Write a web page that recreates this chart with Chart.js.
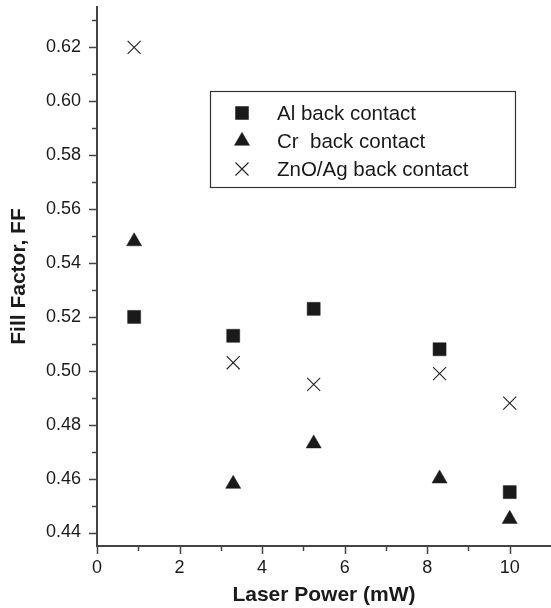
<!DOCTYPE html>
<html>
<head>
<meta charset="utf-8">
<script src="https://cdn.jsdelivr.net/npm/chart.js@4/dist/chart.umd.min.js"></script>
<style>
  html, body { margin: 0; padding: 0; background: #fff; }
  #wrap { width: 551px; height: 608px; }
</style>
</head>
<body>
<div id="wrap"><canvas id="c" width="551" height="608"></canvas></div>
<script>
// Laser power settings (mW) shared by all three contact types
const laserPower = [0.9, 3.3, 5.25, 8.3, 10];

// Fill factor for each back contact material
const alFF   = [0.520, 0.513, 0.523, 0.508, 0.455];
const crFF   = [0.548, 0.458, 0.473, 0.460, 0.445];
const znoFF  = [0.620, 0.503, 0.495, 0.499, 0.488];

const seriesNames = ['Al back contact', 'Cr  back contact', 'ZnO/Ag back contact'];

// Axis ticks: labelled (major) and unlabelled (minor)
const xMajorTicks = [0, 2, 4, 6, 8, 10];
const xMinorTicks = [1, 3, 5, 7, 9];
const yMajorTicks = [0.44, 0.46, 0.48, 0.50, 0.52, 0.54, 0.56, 0.58, 0.60, 0.62];
const yMinorTicks = [0.45, 0.47, 0.49, 0.51, 0.53, 0.55, 0.57, 0.59, 0.61, 0.63];

const INK = '#1a1a1a';
const AXIS = '#444';
const FONT = "'Liberation Sans', Arial, Helvetica, sans-serif";

function toPoints(ys) {
  return laserPower.map((x, i) => ({ x: x, y: ys[i] }));
}

// Outward tick marks, long for labelled ticks and short for the others
const tickMarks = {
  id: 'tickMarks',
  afterDraw(chart) {
    const { ctx, chartArea, scales } = chart;
    ctx.save();
    ctx.strokeStyle = AXIS;
    ctx.lineWidth = 1.5;
    ctx.beginPath();
    const xs = scales.x, ys = scales.y;
    xMajorTicks.forEach(v => {
      const p = Math.round(xs.getPixelForValue(v)) + 0.5;
      ctx.moveTo(p, chartArea.bottom); ctx.lineTo(p, chartArea.bottom + 8);
    });
    xMinorTicks.forEach(v => {
      const p = Math.round(xs.getPixelForValue(v)) + 0.5;
      ctx.moveTo(p, chartArea.bottom); ctx.lineTo(p, chartArea.bottom + 5);
    });
    yMajorTicks.forEach(v => {
      const p = Math.round(ys.getPixelForValue(v)) + 0.5;
      ctx.moveTo(chartArea.left, p); ctx.lineTo(chartArea.left - 8, p);
    });
    yMinorTicks.forEach(v => {
      const p = Math.round(ys.getPixelForValue(v)) + 0.5;
      ctx.moveTo(chartArea.left, p); ctx.lineTo(chartArea.left - 5, p);
    });
    ctx.stroke();
    ctx.restore();
  }
};

// Boxed legend inside the plot, built from the dataset labels and point styles
const boxedLegend = {
  id: 'boxedLegend',
  afterDraw(chart) {
    const { ctx } = chart;
    const box = { left: 210.5, top: 91.5, right: 515.5, bottom: 187.5 };
    ctx.save();
    ctx.strokeStyle = '#333';
    ctx.lineWidth = 1.2;
    ctx.strokeRect(box.left, box.top, box.right - box.left, box.bottom - box.top);
    ctx.textBaseline = 'middle';
    chart.data.datasets.forEach((ds, i) => {
      const y = 113 + i * 28;
      ctx.fillStyle = ds.backgroundColor;
      ctx.strokeStyle = ds.borderColor;
      ctx.lineWidth = ds.borderWidth;
      Chart.helpers.drawPoint(ctx, {
        pointStyle: ds.pointStyle,
        radius: ds.pointRadius,
        rotation: 0,
        borderWidth: ds.borderWidth
      }, 242, y);
      ctx.font = '20.5px ' + FONT;
      ctx.fillStyle = INK;
      ctx.fillText(ds.label, 277, y + 1);
    });
    ctx.restore();
  }
};

// Keep the plot area edges fixed: no extra room for edge labels
function noEdgePadding(scale) {
  scale.paddingTop = 0;
  scale.paddingBottom = 0;
  scale.paddingLeft = 0;
  scale.paddingRight = 0;
}

const ctx = document.getElementById('c').getContext('2d');
new Chart(ctx, {
  type: 'scatter',
  data: {
    datasets: [
      {
        label: seriesNames[0],
        data: toPoints(alFF),
        pointStyle: 'rect',
        pointRadius: 9.2,
        backgroundColor: INK,
        borderColor: INK,
        borderWidth: 0.5
      },
      {
        label: seriesNames[1],
        data: toPoints(crFF),
        pointStyle: 'triangle',
        pointRadius: 8.7,
        backgroundColor: INK,
        borderColor: INK,
        borderWidth: 0.5
      },
      {
        label: seriesNames[2],
        data: toPoints(znoFF),
        pointStyle: 'crossRot',
        pointRadius: 9.2,
        backgroundColor: INK,
        borderColor: '#222',
        borderWidth: 1.1
      }
    ]
  },
  options: {
    responsive: false,
    animation: false,
    events: [],
    layout: { autoPadding: false, padding: { top: 7, right: 0, left: 0, bottom: 0 } },
    plugins: {
      legend: { display: false },
      tooltip: { enabled: false }
    },
    scales: {
      x: {
        type: 'linear',
        min: 0,
        max: 11,
        afterBuildTicks(scale) {
          scale.ticks = xMajorTicks.map(v => ({ value: v }));
        },
        afterFit(scale) { scale.height = 62; noEdgePadding(scale); },
        grid: { display: false },
        border: { display: true, color: AXIS, width: 2 },
        ticks: {
          color: INK,
          padding: 3,
          maxRotation: 0,
          autoSkip: false,
          font: { family: FONT, size: 18 },
          callback: v => String(v)
        },
        title: {
          display: true,
          text: 'Laser Power (mW)',
          color: INK,
          font: { family: FONT, size: 21, weight: 'bold' },
          padding: { top: 0, bottom: 0 }
        }
      },
      y: {
        type: 'linear',
        min: 0.435,
        max: 0.635,
        afterBuildTicks(scale) {
          scale.ticks = yMajorTicks.map(v => ({ value: v }));
        },
        afterFit(scale) { scale.width = 97; noEdgePadding(scale); },
        grid: { display: false },
        border: { display: true, color: AXIS, width: 2 },
        ticks: {
          color: INK,
          padding: 8,
          autoSkip: false,
          font: { family: FONT, size: 18 },
          callback: v => Number(v).toFixed(2)
        },
        title: {
          display: true,
          text: 'Fill Factor, FF',
          color: INK,
          font: { family: FONT, size: 21, weight: 'bold' },
          padding: { top: 7, bottom: 0 }
        }
      }
    }
  },
  plugins: [tickMarks, boxedLegend]
});
</script>
</body>
</html>
